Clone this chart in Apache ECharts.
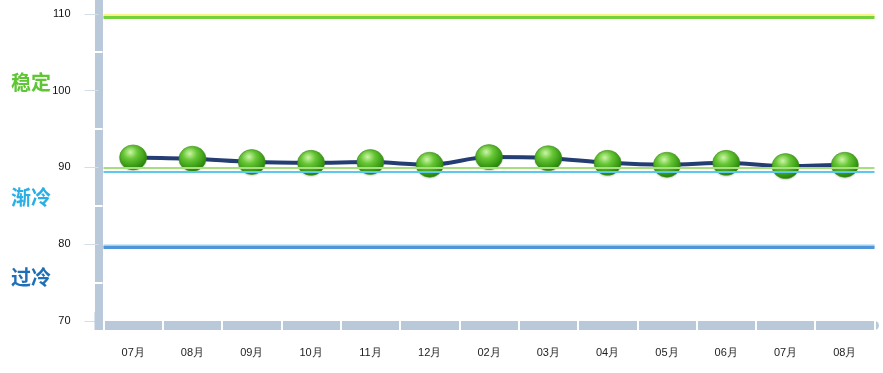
<!DOCTYPE html>
<html>
<head>
<meta charset="utf-8">
<script src="https://cdn.jsdelivr.net/npm/echarts@6/dist/echarts.min.js"></script>
<style>html,body{margin:0;padding:0;background:#fff}#c{width:883px;height:373px}</style>
</head>
<body>
<div id="c"></div>
<script>
const categories = ['07月','08月','09月','10月','11月','12月','02月','03月','04月','05月','06月','07月','08月'];
const values = [91.3, 91.13, 90.7, 90.6, 90.7, 90.35, 91.34, 91.2, 90.6, 90.35, 90.6, 90.17, 90.35];
const yTicks = {min: 70, max: 111.8, interval: 10};
const thresholds = {stableTop: 109.6, stableBottom: 89.9, coolingTop: 89.5, overcooled: 79.6};
const zoneLabels = ['稳定', '渐冷', '过冷'];

const chart = echarts.init(document.getElementById('c'));
const barColor = '#b9c9da';
const sphere = new echarts.graphic.RadialGradient(0.4, 0.3, 0.75, [
  {offset: 0, color: '#cdf5a8'},
  {offset: 0.35, color: '#66c634'},
  {offset: 0.8, color: '#319210'},
  {offset: 1, color: '#27780a'}
]);
const zoneText = (txt, top, color) => ({
  type: 'text', left: 11, top: top,
  style: {text: txt, fill: color, font: 'bold 20px "Noto Sans CJK SC"'}
});
chart.setOption({
  animation: false,
  grid: {left: 103.5, right: 8.5, top: 0, bottom: 52},
  xAxis: [{
    type: 'category', data: categories, position: 'bottom', offset: 4.5,
    axisLine: {show: true, lineStyle: {color: barColor, width: 9}},
    axisTick: {show: false},
    axisLabel: {margin: 22, fontSize: 11, color: '#222', fontFamily: 'Liberation Sans'},
    splitLine: {show: false}
  }, {
    type: 'category', data: categories, position: 'bottom', offset: 9,
    axisLine: {show: false},
    axisTick: {show: true, inside: true, length: 9, lineStyle: {color: '#fff', width: 2}},
    axisLabel: {show: false},
    splitLine: {show: false}
  }],
  yAxis: [{
    type: 'value', min: yTicks.min, max: yTicks.max, interval: yTicks.interval, position: 'left', offset: 5,
    axisLine: {show: true, symbol: ['rect', 'none'], symbolSize: [8, 18], lineStyle: {color: barColor, width: 8}},
    axisTick: {show: true, length: 14, lineStyle: {color: '#d5dde6', width: 1}},
    axisLabel: {margin: 28, fontSize: 11, color: '#111', fontFamily: 'Liberation Sans', showMaxLabel: false},
    splitLine: {show: false}
  }, {
    type: 'value', min: yTicks.min, max: yTicks.max, interval: yTicks.interval, position: 'left', offset: 1,
    axisLine: {show: false}, axisTick: {show: false}, axisLabel: {show: false},
    minorTick: {show: true, splitNumber: 2, length: 8, lineStyle: {color: '#fff', width: 2}},
    splitLine: {show: false}
  }],
  graphic: [
    zoneText(zoneLabels[0], 72, '#5ec634'),
    zoneText(zoneLabels[1], 187, '#2aaee6'),
    zoneText(zoneLabels[2], 267, '#1f6fb8')
  ],
  series: [{
    type: 'line', data: [], z: 1, xAxisIndex: 0, yAxisIndex: 0,
    markLine: {
      silent: true, symbol: ['none', 'none'], label: {show: false},
      data: [
        {yAxis: thresholds.stableTop, lineStyle: {type: 'solid', color: '#76d13f', width: 3, shadowColor: 'rgba(250,240,110,0.9)', shadowBlur: 1, shadowOffsetY: -2}},
        {yAxis: thresholds.stableBottom, lineStyle: {type: 'solid', color: '#a6e07e', width: 2}},
        {yAxis: thresholds.coolingTop, lineStyle: {type: 'solid', color: '#5cc8ec', width: 2}},
        {yAxis: thresholds.overcooled, lineStyle: {type: 'solid', color: '#4f95d8', width: 3, shadowColor: 'rgba(150,210,245,1)', shadowBlur: 0, shadowOffsetY: -1.5}}
      ]
    }
  }, {
    type: 'line', data: values, z: 3, xAxisIndex: 0, yAxisIndex: 0,
    smooth: 0.3,
    lineStyle: {color: '#243d72', width: 4},
    symbol: 'circle', symbolSize: [27, 25], showAllSymbol: true,
    itemStyle: {color: sphere, borderColor: '#3f8f1c', borderWidth: 0.6, shadowColor: 'rgba(0,0,0,0.15)', shadowBlur: 2, shadowOffsetY: 1}
  }]
});
</script>
</body>
</html>
